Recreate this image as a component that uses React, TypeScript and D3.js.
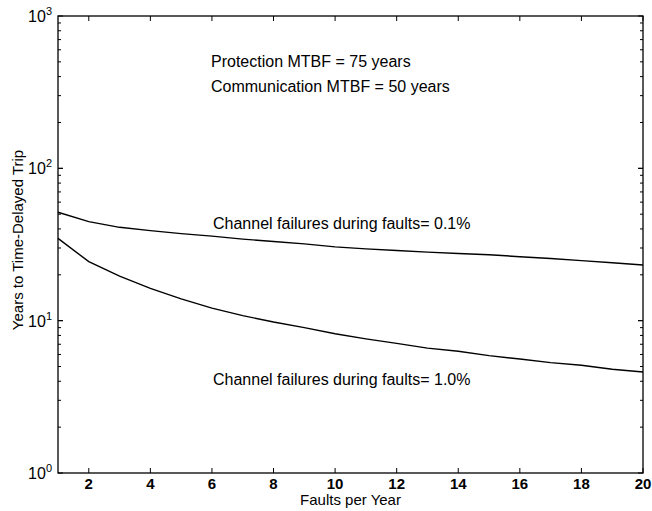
import * as d3 from "d3";
import { useEffect, useRef } from "react";

// faults per year
const faults = [1, 2, 3, 4, 5, 6, 7, 8, 9, 10, 11, 12, 13, 14, 15, 16, 17, 18, 19, 20];
// years to time-delayed trip, channel failures = 0.1%
const yearsLow = [51.5, 44.7, 41.0, 39.0, 37.3, 35.9, 34.3, 33.1, 31.9, 30.5, 29.6, 28.9, 28.2, 27.6, 27.1, 26.3, 25.6, 24.8, 24.0, 23.2];
// years to time-delayed trip, channel failures = 1.0%
const yearsHigh = [34.7, 24.4, 19.6, 16.3, 13.9, 12.1, 10.8, 9.8, 9.0, 8.2, 7.6, 7.1, 6.6, 6.3, 5.9, 5.6, 5.3, 5.1, 4.8, 4.6];

const xTicks = [2, 4, 6, 8, 10, 12, 14, 16, 18, 20];
const yTicks = [0, 1, 2, 3]; // exponents

export default function App() {
    const ref = useRef<SVGSVGElement>(null);

    useEffect(() => {
        const width = 652;
        const height = 511;
        const margin = { top: 16, right: 9, bottom: 38, left: 58 };
        const font = "Arial, 'Liberation Sans', Helvetica, sans-serif";

        const svg = d3.select(ref.current)
            .attr('width', width)
            .attr('height', height);

        svg.selectAll('*').remove();

        const x = d3.scaleLinear()
            .domain([1, 20])
            .range([margin.left, width - margin.right]);

        const y = d3.scaleLog()
            .domain([1, 1000])
            .range([height - margin.bottom, margin.top]);

        const x0 = margin.left, x1 = width - margin.right;
        const y0 = height - margin.bottom, y1 = margin.top;

        // frame
        svg.append('rect')
            .attr('x', x0).attr('y', y1)
            .attr('width', x1 - x0).attr('height', y0 - y1)
            .attr('fill', 'none').attr('stroke', '#000').attr('stroke-width', 1.3);

        // x ticks, inward on bottom and top
        const g = svg.append('g').attr('stroke', '#000').attr('stroke-width', 1);
        xTicks.forEach(t => {
            g.append('line').attr('x1', x(t)).attr('x2', x(t)).attr('y1', y0).attr('y2', y0 - 5);
            g.append('line').attr('x1', x(t)).attr('x2', x(t)).attr('y1', y1).attr('y2', y1 + 5);
        });

        // y ticks, major and minor
        for (let e = 0; e < 3; e++) {
            for (let m = 1; m <= 10; m++) {
                const v = m * Math.pow(10, e);
                const len = (m === 1 || m === 10) ? 5 : 3;
                g.append('line').attr('x1', x0).attr('x2', x0 + len).attr('y1', y(v)).attr('y2', y(v));
                g.append('line').attr('x1', x1).attr('x2', x1 - len).attr('y1', y(v)).attr('y2', y(v));
            }
        }

        // x tick labels
        svg.append('g').selectAll('text')
            .data(xTicks)
            .join('text')
            .attr('x', d => x(d))
            .attr('y', y0 + 16)
            .attr('text-anchor', 'middle')
            .attr('font-family', font)
            .attr('font-size', 15)
            .attr('font-weight', 'bold')
            .text(d => d);

        // y tick labels 10^n
        const yl = svg.append('g').selectAll('text')
            .data(yTicks)
            .join('text')
            .attr('x', x0 - 6)
            .attr('y', d => y(Math.pow(10, d)) + 6)
            .attr('text-anchor', 'end')
            .attr('font-family', font)
            .attr('font-size', 16);
        yl.append('tspan').text('10');
        yl.append('tspan')
            .attr('font-size', 11)
            .attr('dy', -7)
            .text(d => d);

        // curves
        const line = d3.line<number>()
            .x((d, i) => x(faults[i]))
            .y(d => y(d));

        [yearsLow, yearsHigh].forEach(s => {
            svg.append('path')
                .datum(s)
                .attr('d', line)
                .attr('fill', 'none')
                .attr('stroke', '#000')
                .attr('stroke-width', 1.4);
        });

        // annotations
        const notes = [
            { t: 'Protection MTBF = 75 years', px: 211, py: 67 },
            { t: 'Communication MTBF = 50 years', px: 211, py: 92 },
            { t: 'Channel failures during faults= 0.1%', px: 213, py: 229 },
            { t: 'Channel failures during faults= 1.0%', px: 213, py: 385 },
        ];
        svg.append('g').selectAll('text')
            .data(notes)
            .join('text')
            .attr('x', d => d.px)
            .attr('y', d => d.py)
            .attr('font-family', font)
            .attr('font-size', 16)
            .text(d => d.t);

        // axis labels
        svg.append('text')
            .attr('x', (x0 + x1) / 2)
            .attr('y', height - 6)
            .attr('text-anchor', 'middle')
            .attr('font-family', font)
            .attr('font-size', 15)
            .text('Faults per Year');

        svg.append('text')
            .attr('transform', `translate(23,240) rotate(-90)`)
            .attr('text-anchor', 'middle')
            .attr('font-family', font)
            .attr('font-size', 15)
            .text('Years to Time-Delayed Trip');
    }, []);

    return (
        <svg ref={ref} style={{ position: 'absolute', left: 0, top: 0, background: '#fff' }}></svg>
    );
}
